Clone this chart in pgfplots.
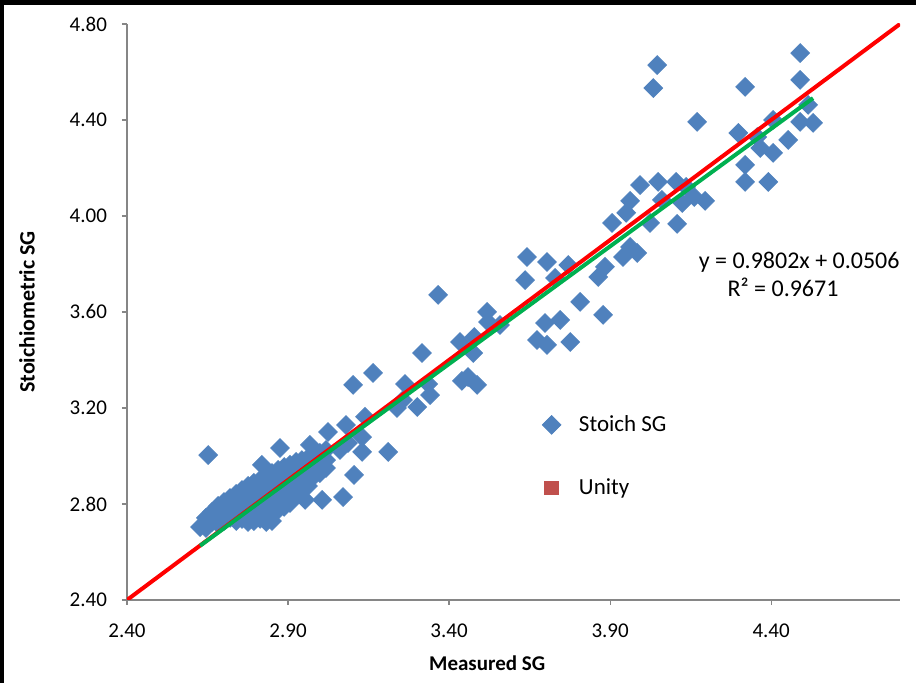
\documentclass[border=0pt]{standalone}
\usepackage{fontspec}
\setmainfont{Carlito}
\usepackage{pgfplots}
\pgfplotsset{compat=1.18}
\definecolor{ptblue}{HTML}{4F81BD}
\definecolor{unityred}{HTML}{C0504D}
\definecolor{axgray}{HTML}{868686}
\definecolor{trgreen}{HTML}{00B050}
\begin{document}
\begin{tikzpicture}
\useasboundingbox (-63.5pt,-41.5pt) rectangle (394.5pt,300pt);
\begin{axis}[
 at={(0,0)}, anchor=south west,
 scale only axis, width=386.5pt, height=288pt,
 xmin=2.4, xmax=4.8, ymin=2.4, ymax=4.8,
 axis x line*=bottom, axis y line*=left,
 axis line style={-, axgray, line width=0.6pt},
 xtick={2.4,2.9,3.4,3.9,4.4}, xticklabels={2.40,2.90,3.40,3.90,4.40},
 ytick={2.4,2.8,3.2,3.6,4.0,4.4,4.8}, yticklabels={2.40,2.80,3.20,3.60,4.00,4.40,4.80},
 tick align=outside, major tick length=2.5pt,
 tick style={axgray, line width=0.6pt},
 ticklabel style={font=\fontsize{10.5}{12}\selectfont},
 xticklabel style={yshift=-6pt},
 yticklabel style={xshift=-4pt},
 xlabel={Measured SG}, ylabel={Stoichiometric SG},
 label style={font=\bfseries\fontsize{10.5}{12}\selectfont},
 xlabel style={at={(axis description cs:0.466,-0.1094)}, anchor=center},
 ylabel style={at={(axis description cs:-0.1294,0.5)}, anchor=center, font=\bfseries\fontsize{11}{12}\selectfont},
 clip mode=individual,
 legend style={draw=none, fill=none, at={(axis description cs:0.529,0.335)}, anchor=north west,
   row sep=18pt, font=\fontsize{11.5}{13}\selectfont,
   /tikz/every odd column/.append style={column sep=7pt}},
 legend cell align=left,
]
\addplot[only marks, mark=square*, mark size=3.3pt, mark options={rotate=45, fill=ptblue, draw=ptblue}, color=ptblue] table {
x y
2.627 2.704
2.645 2.742
2.645 2.700
2.664 2.767
2.664 2.725
2.683 2.792
2.683 2.750
2.683 2.717
2.701 2.808
2.701 2.767
2.701 2.729
2.720 2.825
2.720 2.783
2.720 2.742
2.739 2.842
2.739 2.800
2.739 2.758
2.739 2.729
2.757 2.858
2.757 2.817
2.757 2.775
2.757 2.738
2.776 2.875
2.776 2.833
2.776 2.792
2.776 2.750
2.776 2.725
2.794 2.888
2.794 2.846
2.794 2.804
2.794 2.763
2.794 2.729
2.813 2.900
2.813 2.858
2.813 2.817
2.813 2.775
2.813 2.738
2.832 2.917
2.832 2.875
2.832 2.833
2.832 2.792
2.832 2.750
2.832 2.725
2.850 2.929
2.850 2.888
2.850 2.846
2.850 2.804
2.850 2.763
2.850 2.729
2.869 2.942
2.869 2.900
2.869 2.858
2.869 2.817
2.869 2.775
2.888 2.954
2.888 2.913
2.888 2.871
2.888 2.829
2.888 2.788
2.906 2.963
2.906 2.921
2.906 2.879
2.906 2.838
2.906 2.804
2.925 2.975
2.925 2.933
2.925 2.892
2.925 2.850
2.943 2.983
2.943 2.942
2.943 2.900
2.943 2.858
2.962 2.992
2.962 2.950
2.962 2.908
2.962 2.875
2.981 3.000
2.981 2.958
2.981 2.917
2.999 3.013
2.999 2.971
2.999 2.929
3.018 3.025
3.018 2.983
3.018 2.950
2.652 3.004
2.819 2.963
2.875 3.033
2.953 2.817
3.006 2.817
3.071 2.829
3.105 2.921
2.968 3.046
3.024 3.100
3.080 3.129
3.130 3.079
3.130 3.017
3.211 3.017
3.139 3.163
3.086 3.054
3.061 3.025
3.238 3.200
3.301 3.204
3.257 3.233
3.263 3.300
3.335 3.300
3.341 3.254
3.102 3.296
3.164 3.346
3.316 3.429
3.366 3.671
3.434 3.475
3.478 3.496
3.475 3.429
3.459 3.329
3.440 3.313
3.487 3.296
3.518 3.600
3.521 3.558
3.558 3.546
3.642 3.829
3.704 3.808
3.770 3.796
3.636 3.733
3.729 3.742
3.698 3.554
3.745 3.567
3.673 3.483
3.704 3.463
3.776 3.475
3.807 3.642
3.878 3.588
3.863 3.746
3.884 3.788
3.940 3.829
3.962 3.871
3.984 3.846
3.906 3.971
3.950 4.013
3.962 4.063
4.024 3.971
4.108 3.967
3.993 4.129
4.049 4.142
4.105 4.142
4.136 4.121
4.061 4.067
4.124 4.054
4.161 4.079
4.195 4.063
4.046 4.629
4.034 4.533
4.319 4.538
4.490 4.679
4.490 4.567
4.170 4.392
4.298 4.346
4.515 4.463
4.530 4.388
4.490 4.392
4.406 4.400
4.453 4.317
4.357 4.329
4.366 4.283
4.406 4.263
4.319 4.213
4.319 4.142
4.391 4.142
};
\addlegendentry{Stoich SG}
\addplot[forget plot, red, line width=2pt] coordinates {(2.4,2.4) (4.8,4.8)};
\addplot[forget plot, trgreen, line width=2pt] coordinates {(2.627,2.626) (4.530,4.491)};
\addlegendimage{only marks, mark=square*, mark size=3.4pt, color=unityred}
\addlegendentry{Unity}
\node[font=\fontsize{12}{13}\selectfont] at (axis cs:4.487,3.808) {y = 0.9802x + 0.0506};
\node[font=\fontsize{12}{13}\selectfont] at (axis cs:4.437,3.704) {R² = 0.9671};
\end{axis}
\fill[black] (-63.5pt,297.5pt) rectangle (394.5pt,300pt);
\fill[black] (-63.5pt,-41.5pt) rectangle (-61.5pt,300pt);
\end{tikzpicture}
\end{document}
